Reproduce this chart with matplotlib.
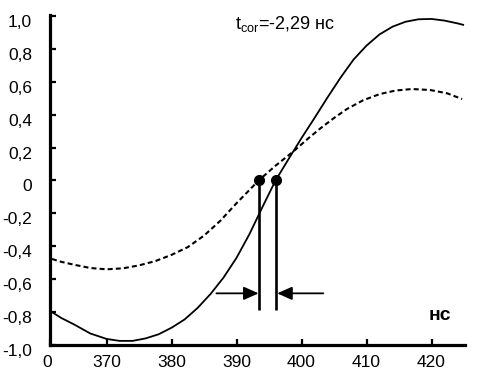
import matplotlib
matplotlib.use("Agg")
import matplotlib.pyplot as plt
import matplotlib.transforms as mtransforms
from matplotlib import font_manager

# ---- data ----
solid_x = [361.4, 363, 365, 367.5, 370, 372, 374, 376, 378, 380, 382, 384, 386, 388,
           390, 392, 394, 396, 398, 400, 402, 404, 406, 408, 410, 412, 414, 416, 418,
           420, 422, 424, 425]
solid_y = [-0.795, -0.835, -0.875, -0.93, -0.963, -0.975, -0.975, -0.96, -0.935, -0.895,
           -0.845, -0.775, -0.69, -0.59, -0.47, -0.325, -0.16, 0.0, 0.13, 0.258, 0.38,
           0.505, 0.625, 0.735, 0.82, 0.888, 0.935, 0.965, 0.98, 0.982, 0.972, 0.955, 0.945]

dashed_x = [361.6, 363, 365, 367.5, 370, 372.5, 375, 377.5, 380, 382.5, 385, 387.5, 390,
            392, 393.4, 396, 398.7, 401, 403, 405, 407, 409.5, 412, 414.5, 417, 419.8,
            422.4, 424.7]
dashed_y = [-0.477, -0.494, -0.512, -0.532, -0.54, -0.534, -0.516, -0.49, -0.452, -0.405,
            -0.335, -0.245, -0.138, -0.057, 0.0, 0.09, 0.175, 0.255, 0.32, 0.38, 0.435,
            0.488, 0.525, 0.547, 0.556, 0.55, 0.53, 0.495]

marker_x = [393.5, 396.0]          # the two zero crossings
marker_bottom = -0.787
arrow_y = -0.686
arrow_left_start = 386.9
arrow_right_start = 403.35

x_ticks = [361.3, 370, 380, 390, 400, 410, 420]
x_tick_labels = ["0", "370", "380", "390", "400", "410", "420"]
y_ticks = [1.0, 0.8, 0.6, 0.4, 0.2, 0.0, -0.2, -0.4, -0.6, -0.8, -1.0]
y_tick_labels = ["1,0", "0,8", "0,6", "0,4", "0,2", "0", "-0,2", "-0,4", "-0,6", "-0,8", "-1,0"]

title_text = r"t$_{\mathrm{cor}}$=-2,29 нс"
unit_text = "нс"

# ---- fonts ----
names = {f.name for f in font_manager.fontManager.ttflist}
tick_family = "Liberation Sans Narrow" if "Liberation Sans Narrow" in names else "Liberation Sans"
plt.rcParams["font.family"] = ["Liberation Sans", "DejaVu Sans"]
plt.rcParams["mathtext.fontset"] = "custom"
plt.rcParams["mathtext.rm"] = "Liberation Sans"
plt.rcParams["mathtext.it"] = "Liberation Sans:italic"

fig = plt.figure(figsize=(4.83, 3.76), dpi=100)
ax = fig.add_axes([50 / 483, 31 / 376, 415 / 483, 330 / 376])

ax.plot(solid_x, solid_y, color="black", lw=1.3, solid_capstyle="butt")
ax.plot(dashed_x, dashed_y, color="black", lw=1.5, linestyle=(0, (2.4, 1.5)))

for mx in marker_x:
    ax.plot([mx, mx], [0, marker_bottom], color="black", lw=1.9, solid_capstyle="butt")
ax.plot(marker_x, [0, 0], "o", color="black", ms=7)

arrow_style = "-|>,head_length=0.9,head_width=0.4"
ax.annotate("", xy=(marker_x[0] - 0.1, arrow_y), xytext=(arrow_left_start, arrow_y),
            arrowprops=dict(arrowstyle=arrow_style, lw=1.3, color="black",
                            shrinkA=0, shrinkB=0))
ax.annotate("", xy=(marker_x[1] + 0.25, arrow_y), xytext=(arrow_right_start, arrow_y),
            arrowprops=dict(arrowstyle=arrow_style, lw=1.3, color="black",
                            shrinkA=0, shrinkB=0))

ax.text(389.8, 0.919, title_text, fontsize=13, ha="left", va="baseline")
ax.text(421.3, -0.818, unit_text, fontsize=14, fontweight="bold", ha="center", va="center")

ax.set_xlim(361.3, 425.15)
ax.set_ylim(-1.0, 1.006)

for side in ["top", "right"]:
    ax.spines[side].set_visible(False)
for side in ["left", "bottom"]:
    ax.spines[side].set_linewidth(2.3)

ax.set_xticks(x_ticks)
ax.set_xticklabels(x_tick_labels, fontsize=12.5, family=tick_family)
ax.set_yticks(y_ticks)
ax.set_yticklabels(y_tick_labels, fontsize=12.5, family=tick_family)
ax.tick_params(axis="both", direction="in", length=4, width=1.6)
ax.tick_params(axis="y", pad=13)
ax.tick_params(axis="x", pad=7)

# labels in the reference sit slightly below their ticks
offset = mtransforms.ScaledTranslation(0, -0.05, fig.dpi_scale_trans)
for lbl in ax.get_yticklabels():
    lbl.set_transform(lbl.get_transform() + offset)
offx = mtransforms.ScaledTranslation(-0.03, 0, fig.dpi_scale_trans)
ax.get_xticklabels()[0].set_transform(ax.get_xticklabels()[0].get_transform() + offx)

fig.savefig("out.png", dpi=100)
